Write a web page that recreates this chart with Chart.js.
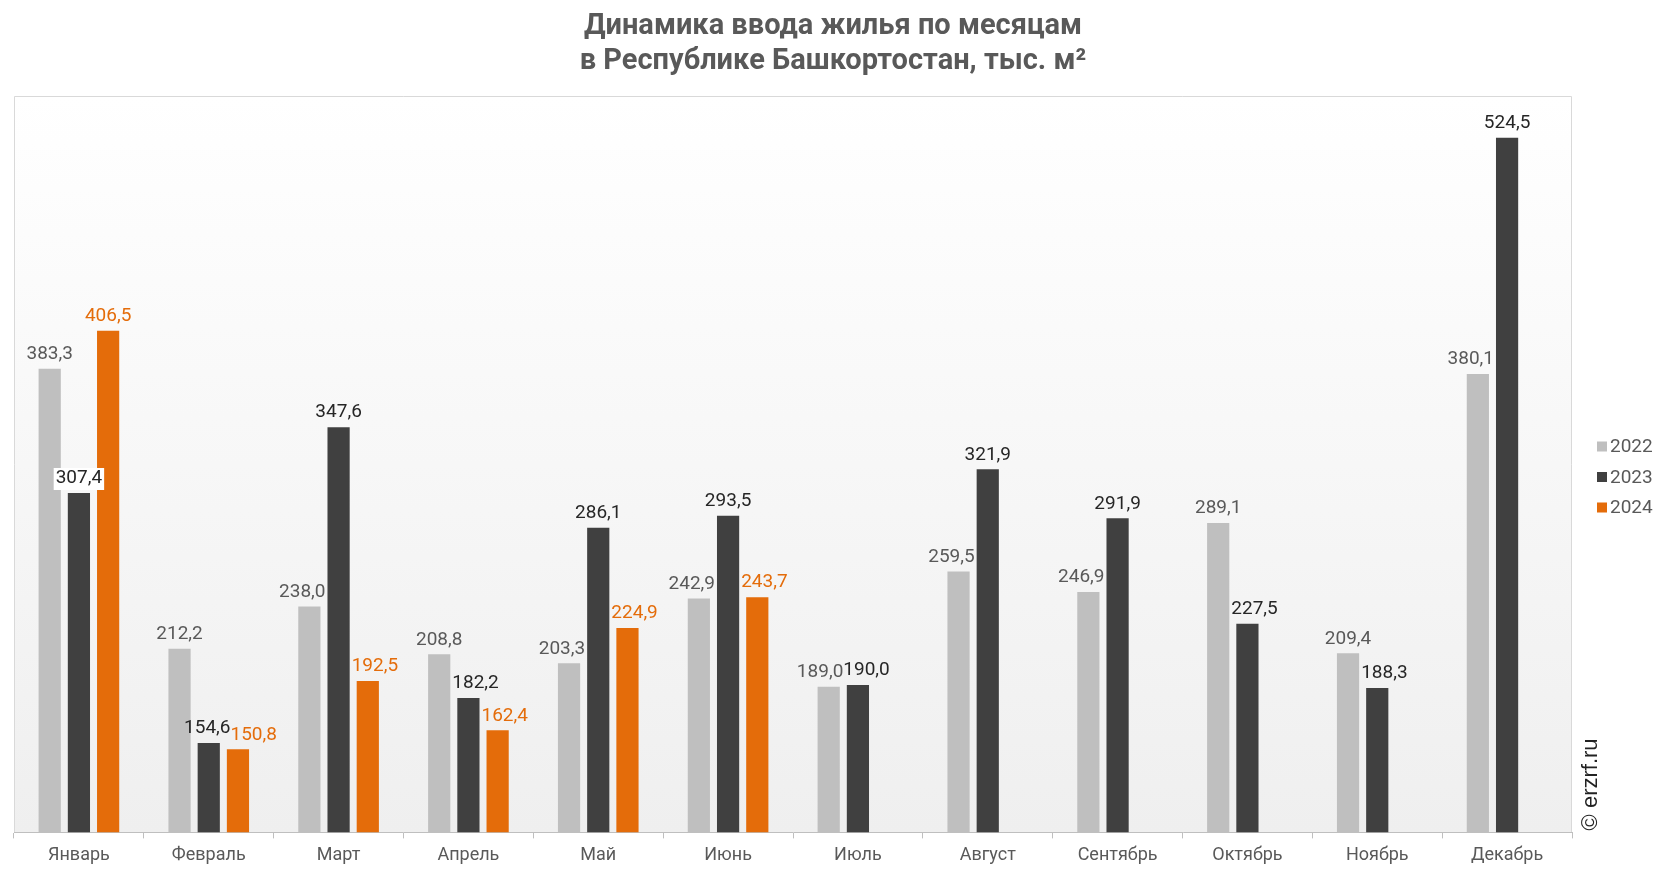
<!DOCTYPE html>
<html lang="ru">
<head>
<meta charset="utf-8">
<title>Динамика ввода жилья</title>
<script src="https://cdn.jsdelivr.net/npm/chart.js@4.4.1/dist/chart.umd.min.js"></script>
<style>
  html, body { margin: 0; padding: 0; background: #fff; }
  canvas { display: block; }
</style>
</head>
<body>
<canvas id="chart" width="1666" height="872"></canvas>
<script>
// --- Data ---
const months = ['Январь', 'Февраль', 'Март', 'Апрель', 'Май', 'Июнь',
                'Июль', 'Август', 'Сентябрь', 'Октябрь', 'Ноябрь', 'Декабрь'];
const years = ['2022', '2023', '2024'];
const values2022 = [383.3, 212.2, 238.0, 208.8, 203.3, 242.9, 189.0, 259.5, 246.9, 289.1, 209.4, 380.1];
const values2023 = [307.4, 154.6, 347.6, 182.2, 286.1, 293.5, 190.0, 321.9, 291.9, 227.5, 188.3, 524.5];
const values2024 = [406.5, 150.8, 192.5, 162.4, 224.9, 243.7, null, null, null, null, null, null];
const titleLines = ['Динамика ввода жилья по месяцам', 'в Республике Башкортостан, тыс. м²'];
const yMin = 100, yMax = 550;

const seriesValues = [values2022, values2023, values2024];
const barColors = ['#bfbfbf', '#404040', '#e46c0a'];
const labelColors = ['#595959', '#262626', '#e46c0a'];
const textGray = '#595959';

// --- Plot area: gradient fill + light frame ---
const plotBackground = {
  id: 'plotBackground',
  beforeDraw(chart) {
    const { ctx, chartArea: a } = chart;
    const g = ctx.createLinearGradient(0, a.top, 0, a.bottom);
    g.addColorStop(0, '#ffffff');
    g.addColorStop(1, '#efefef');
    ctx.save();
    ctx.fillStyle = g;
    ctx.fillRect(a.left, a.top, a.right - a.left, a.bottom - a.top);
    ctx.strokeStyle = '#d9d9d9';
    ctx.lineWidth = 1;
    ctx.beginPath();
    ctx.moveTo(a.left + 0.5, a.bottom);
    ctx.lineTo(a.left + 0.5, a.top + 0.5);
    ctx.lineTo(a.right - 0.5, a.top + 0.5);
    ctx.lineTo(a.right - 0.5, a.bottom);
    ctx.stroke();

    // title, centred on the whole canvas
    ctx.fillStyle = textGray;
    ctx.font = 'bold 29px Roboto';
    ctx.textAlign = 'center';
    ctx.textBaseline = 'middle';
    titleLines.forEach((t, k) => ctx.fillText(t, chart.width / 2, 27 + k * 35));
    ctx.restore();
  }
};

// --- Value labels above bars, nudged away from taller neighbours ---
const valueLabels = {
  id: 'valueLabels',
  afterDatasetsDraw(chart) {
    const ctx = chart.ctx;
    const h = 19;
    ctx.save();
    ctx.font = '19px Roboto';
    ctx.textAlign = 'center';
    ctx.textBaseline = 'bottom';
    months.forEach((m, i) => {
      const bars = [];
      chart.data.datasets.forEach((ds, d) => {
        const v = ds.data[i];
        if (v == null) return;
        const el = chart.getDatasetMeta(d).data[i];
        bars.push({ d, v, x: el.x, left: el.x - el.width / 2, right: el.x + el.width / 2, top: el.y });
      });
      const labels = bars.map(b => {
        const text = b.v.toFixed(1).replace('.', ',');
        const w = ctx.measureText(text).width;
        return { b, text, w, x: b.x, bottom: b.top - 5, top: b.top - 5 - h, boxed: false };
      });

      labels.forEach(l => {
        let shiftL = 0, shiftR = 0;
        bars.forEach(o => {
          if (o === l.b || o.top >= l.bottom) return;
          if (o.left < l.b.left) {
            const overlap = o.right - (l.x - l.w / 2);
            if (overlap > 0) shiftR = Math.max(shiftR, overlap + 2);
          } else {
            const overlap = (l.x + l.w / 2) - o.left;
            if (overlap > 0) shiftL = Math.max(shiftL, overlap + 2);
          }
        });
        if (shiftL && shiftR) l.boxed = true;
        else l.x += shiftR - shiftL;
      });

      for (let k = 1; k < labels.length; k++) {
        const a = labels[k - 1], b = labels[k];
        const vert = a.top < b.bottom && b.top < a.bottom;
        const overlap = (a.x + a.w / 2) - (b.x - b.w / 2);
        if (vert && overlap > 0) { a.x -= overlap / 2; b.x += overlap / 2; }
      }

      labels.forEach(l => {
        if (l.boxed) {
          ctx.fillStyle = '#ffffff';
          ctx.fillRect(l.x - l.w / 2 - 2, l.top - 1, l.w + 4, h + 3);
        }
        ctx.fillStyle = labelColors[l.b.d];
        ctx.fillText(l.text, l.x, l.bottom);
      });
    });
    ctx.restore();
  }
};

// --- Legend on the right and the vertical source note ---
const sideNotes = {
  id: 'sideNotes',
  afterDraw(chart) {
    const { ctx, chartArea: a } = chart;
    ctx.save();
    ctx.font = '19px Roboto';
    ctx.textBaseline = 'middle';
    ctx.textAlign = 'left';
    const x0 = a.right + 25;
    const yMid = 477;
    chart.data.datasets.forEach((ds, k) => {
      const y = yMid + (k - 1) * 30.5;
      ctx.fillStyle = ds.backgroundColor;
      ctx.fillRect(x0, y - 5, 10, 10);
      ctx.fillStyle = textGray;
      ctx.fillText(ds.label, x0 + 13, y + 1);
    });

    ctx.translate(a.right + 19, a.bottom);
    ctx.rotate(-Math.PI / 2);
    ctx.font = '22px "Liberation Sans"';
    ctx.fillStyle = '#222222';
    ctx.fillText('© erzrf.ru', 2, 0);
    ctx.restore();
  }
};

new Chart(document.getElementById('chart'), {
  type: 'bar',
  data: {
    labels: months,
    datasets: years.map((y, k) => ({
      label: y,
      data: seriesValues[k],
      backgroundColor: barColors[k],
      base: yMin,
      categoryPercentage: 0.675,
      barPercentage: 0.76
    }))
  },
  options: {
    responsive: false,
    animation: false,
    devicePixelRatio: 1,
    layout: { padding: { left: 14, right: 94, top: 96, bottom: 0 } },
    plugins: {
      legend: { display: false },
      tooltip: { enabled: false },
      title: { display: false }
    },
    scales: {
      x: {
        grid: { display: true, drawOnChartArea: false, drawTicks: true, tickLength: 6, color: '#bfbfbf', offset: true },
        border: { color: '#bfbfbf' },
        ticks: { color: textGray, font: { family: 'Roboto', size: 18 }, padding: 6 }
      },
      y: { display: false, min: yMin, max: yMax }
    }
  },
  plugins: [plotBackground, valueLabels, sideNotes]
});
</script>
</body>
</html>
